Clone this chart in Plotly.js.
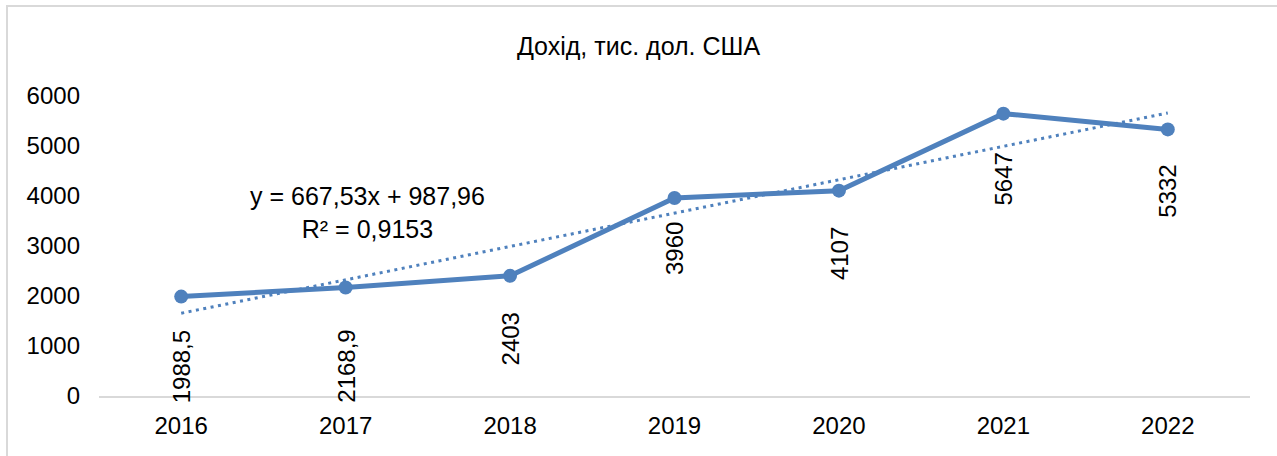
<!DOCTYPE html>
<html>
<head>
<meta charset="utf-8">
<script src="https://cdn.plot.ly/plotly-3.0.1.min.js"></script>
<style>
  html, body { margin: 0; padding: 0; overflow: hidden; background: #fff; }
  #wrap { position: relative; width: 1277px; height: 456px; }
  #chart { position: absolute; left: 0; top: 0; width: 1277px; height: 456px; }
  #frame { position: absolute; left: 6px; top: 5px; width: 1300px; height: 480px;
           border: 2px solid #d9d9d9; pointer-events: none; box-sizing: border-box; }
</style>
</head>
<body>
<div id="wrap">
  <div id="chart"></div>
  <div id="frame"></div>
</div>
<script>
// ---- data ----
const years = ['2016', '2017', '2018', '2019', '2020', '2021', '2022'];
const income = [1988.5, 2168.9, 2403, 3960, 4107, 5647, 5332];
const yTicks = [0, 1000, 2000, 3000, 4000, 5000, 6000];
const chartTitle = 'Дохід, тис. дол. США';
// linear trendline as shown on the chart: y = 667,53x + 987,96 ; R² = 0,9153
const trendSlope = 667.53;
const trendIntercept = 987.96;
const trendR2 = 0.9153;

// ---- derived ----
const fmt = v => String(v).replace('.', ',');
const trendX = [years[0], years[years.length - 1]];
const trendY = [trendSlope * 1 + trendIntercept, trendSlope * years.length + trendIntercept];

const blue = '#4F81BD';
const font = 'Liberation Sans, Arial, sans-serif';

const traces = [
  {
    x: years, y: income, type: 'scatter', mode: 'lines+markers',
    line: { color: blue, width: 5 },
    marker: { color: blue, size: 14 },
    showlegend: false
  },
  {
    x: trendX, y: trendY, type: 'scatter', mode: 'lines',
    line: { color: blue, width: 3, dash: '3px,4.5px' },
    hoverinfo: 'skip', showlegend: false
  }
];

// pixel gap between each point and its (manually placed) data label
const labelShift = [32, 40, 35, 22, 34, 37, 33];
const yMax = 6000, plotH = 300;           // 300 px plot height
const pxToVal = yMax / plotH;
const annotations = years.map((yr, i) => ({
  x: i, y: income[i] - labelShift[i] * pxToVal, xref: 'x', yref: 'y',
  text: fmt(income[i]), textangle: -90, showarrow: false,
  xanchor: 'center', yanchor: 'top',
  font: { family: font, size: 24, color: '#000' }
}));
annotations.push({
  x: 1.13, y: 3670, xref: 'x', yref: 'y',
  text: 'y = ' + fmt(trendSlope) + 'x + ' + fmt(trendIntercept) + '<br>R² = ' + fmt(trendR2),
  showarrow: false, align: 'center', xanchor: 'center', yanchor: 'middle',
  font: { family: font, size: 25, color: '#000' }
});

const layout = {
  width: 1277, height: 456,
  margin: { l: 99, r: 27, t: 96, b: 456 - 96 - plotH },
  paper_bgcolor: '#fff', plot_bgcolor: '#fff',
  font: { family: font, size: 24, color: '#000' },
  title: {
    text: chartTitle, xref: 'container', yref: 'container',
    x: 0.5, xanchor: 'center', y: 1 - 46 / 456, yanchor: 'middle',
    font: { family: font, size: 25, color: '#000' }
  },
  xaxis: {
    type: 'category', categoryorder: 'array', categoryarray: years,
    range: [-0.5, years.length - 0.5],
    showline: true, linecolor: '#d9d9d9', linewidth: 2,
    showgrid: false, zeroline: false, ticks: '',
    ticklabelstandoff: 7, fixedrange: true
  },
  yaxis: {
    range: [0, yMax], tickvals: yTicks, ticktext: yTicks.map(String),
    showline: false, showgrid: false, zeroline: false, ticks: '',
    ticklabelstandoff: 18, fixedrange: true
  },
  annotations: annotations,
  showlegend: false
};

Plotly.newPlot('chart', traces, layout, { displayModeBar: false, staticPlot: true });
</script>
</body>
</html>
